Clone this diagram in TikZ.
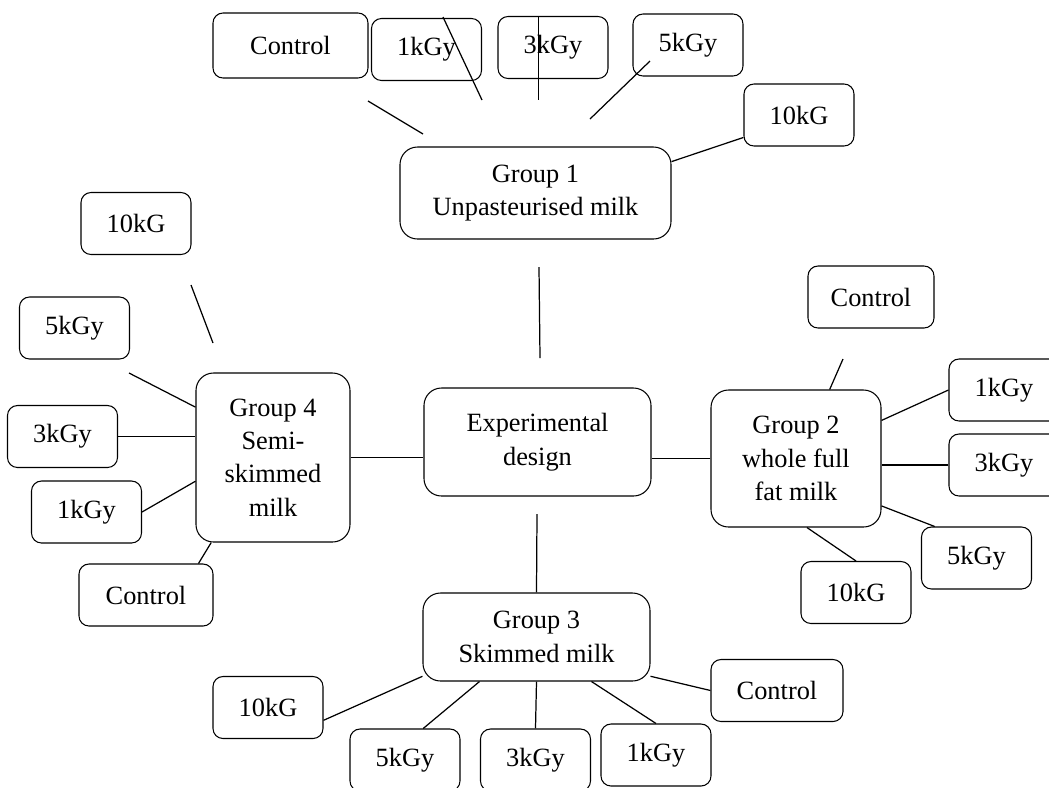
\documentclass[tikz,border=0pt]{standalone}
\usepackage{fontspec}
\setmainfont{Liberation Serif}
\usetikzlibrary{calc}
\tikzset{
  leaf/.style={draw,rounded corners=2mm,line width=0.6pt,minimum width=22mm,
    minimum height=12.4mm,inner sep=0pt,align=center,font=\fontsize{15}{19}\selectfont},
  grp/.style={leaf,rounded corners=3.5mm},
  link/.style={line width=0.7pt},
}

\begin{document}
\begin{tikzpicture}[x=0.2mm,y=-0.2mm]
  \useasboundingbox (0,0) rectangle (1049,787);
  \clip (0,0) rectangle (1049,787);
  % centre
  \node[grp,minimum width=45.4mm,minimum height=21.6mm] (exp) at (537.5,442) {Experimental\\design};
  % group 1
  \node[grp,minimum width=54.2mm,minimum height=18.4mm] (g1) at (535.5,193) {Group 1\\Unpasteurised milk};
  \node[leaf,minimum width=31mm,minimum height=13mm] (a1) at (290.5,45.5) {Control};
  \node[leaf] (a2) at (426.5,49.5) {1kGy};
  \node[leaf] (a3) at (553,47.5) {3kGy};
  \node[leaf] (a4) at (688,45) {5kGy};
  \node[leaf] (a5) at (799,115) {10kG};
  % group 2
  \node[grp,minimum width=34mm,minimum height=27.4mm] (g2) at (796,458.5) {Group 2\\whole full\\fat milk};
  \node[leaf,minimum width=25.2mm] (b1) at (871,297) {Control};
  \node[leaf] (b2) at (1004,390) {1kGy};
  \node[leaf] (b3) at (1004,465) {3kGy};
  \node[leaf] (b4) at (976.5,558) {5kGy};
  \node[leaf] (b5) at (856,592.5) {10kG};
  % group 3
  \node[grp,minimum width=45.4mm,minimum height=17.6mm] (g3) at (536.5,637) {Group 3\\Skimmed milk};
  \node[leaf] (c1) at (268,707.5) {10kG};
  \node[leaf] (c2) at (405,760) {5kGy};
  \node[leaf] (c3) at (535.5,760) {3kGy};
  \node[leaf] (c4) at (656,755) {1kGy};
  \node[leaf,minimum width=26.4mm] (c5) at (777,690.5) {Control};
  % group 4
  \node[grp,minimum width=30.8mm,minimum height=33.8mm] (g4) at (273,457.5) {Group 4\\Semi-\\skimmed\\milk};
  \node[leaf] (d1) at (136,223.5) {10kG};
  \node[leaf] (d2) at (74.5,328) {5kGy};
  \node[leaf] (d3) at (62.5,436.5) {3kGy};
  \node[leaf] (d4) at (86.5,512) {1kGy};
  \node[leaf,minimum width=26.8mm] (d5) at (146,595) {Control};

  % loose line ends
  \coordinate (u1) at (368,101);  \coordinate (u2) at (423,134);
  \coordinate (u3) at (443,17);   \coordinate (u4) at (482,100);
  \coordinate (u5) at (538.5,17); \coordinate (u6) at (538.5,100);
  \coordinate (u7) at (650,61);   \coordinate (u8) at (590,119);
  \coordinate (m1) at (539,267);  \coordinate (m2) at (540,358);
  \coordinate (m3) at (537,514);
  \coordinate (r1) at (843,359);
  \coordinate (l1) at (191,285);  \coordinate (l2) at (213,343);
  \coordinate (l3) at (129,373);

  % group 1 links
  \draw[link] (u1) -- (u2);
  \draw[link] (u3) -- (u4);
  \draw[link] (u5) -- (u6);
  \draw[link] (u7) -- (u8);
  \draw[link] (g1.13) -- (a5.202);
  % centre links
  \draw[link] (m1) -- (m2);
  \draw[link] (g4.east) -- (g4.east -| exp.west);
  \draw[link] (g2.west) -- (g2.west -| exp.east);
  \draw[link] (m3) -- (g3.north);
  % group 2 links
  \draw[link] (r1) -- (g2.64);
  \draw[link] (g2.24) -- (b2.west);
  \draw[link] (b3.west) -- (b3.west -| g2.east);
  \draw[link] (g2.-29) -- (b4.143);
  \draw[link] (g2.-81) -- (b5.north);
  % group 3 links
  \draw[link] (c1.-13) -- (g3.199);
  \draw[link] (c2.60) -- (g3.218);
  \draw[link] (g3.south) -- (c3.north);
  \draw[link] (g3.-39) -- (c4.north);
  \draw[link] (g3.-19) -- (c5.west);
  % group 4 links
  \draw[link] (l1) -- (l2);
  \draw[link] (l3) -- (g4.147.5);
  \draw[link] (d3.east) -- (d3.east -| g4.west);
  \draw[link] (d4.east) -- (g4.197);
  \draw[link] (g4.234.6) -- (d5.31);
\end{tikzpicture}
\end{document}
